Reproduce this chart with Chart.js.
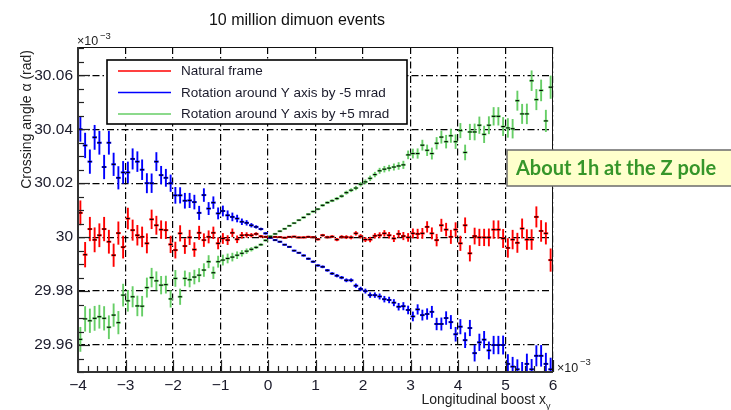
<!DOCTYPE html>
<html>
<head>
<meta charset="utf-8">
<title>10 million dimuon events</title>
<script src="https://cdn.jsdelivr.net/npm/chart.js@4/dist/chart.umd.min.js"></script>
<style>
  html, body { margin: 0; padding: 0; background: #fff; }
  #wrap { width: 731px; height: 410px; position: relative; }
</style>
</head>
<body>
<div id="wrap"><canvas id="c" width="731" height="410"></canvas></div>
<script>
// Longitudinal boost bin centres (x10^-3), bins of width 0.1
const boostBins = [
  -3.95,-3.85,-3.75,-3.65,-3.55,-3.45,-3.35,-3.25,-3.15,-3.05,
  -2.95,-2.85,-2.75,-2.65,-2.55,-2.45,-2.35,-2.25,-2.15,-2.05,
  -1.95,-1.85,-1.75,-1.65,-1.55,-1.45,-1.35,-1.25,-1.15,-1.05,
  -0.95,-0.85,-0.75,-0.65,-0.55,-0.45,-0.35,-0.25,-0.15,-0.05,
   0.05, 0.15, 0.25, 0.35, 0.45, 0.55, 0.65, 0.75, 0.85, 0.95,
   1.05, 1.15, 1.25, 1.35, 1.45, 1.55, 1.65, 1.75, 1.85, 1.95,
   2.05, 2.15, 2.25, 2.35, 2.45, 2.55, 2.65, 2.75, 2.85, 2.95,
   3.05, 3.15, 3.25, 3.35, 3.45, 3.55, 3.65, 3.75, 3.85, 3.95,
   4.05, 4.15, 4.25, 4.35, 4.45, 4.55, 4.65, 4.75, 4.85, 4.95,
   5.05, 5.15, 5.25, 5.35, 5.45, 5.55, 5.65, 5.75, 5.85, 5.95
];

// Mean crossing angle per bin (x10^-3 rad), natural frame
const alphaNatural = [
  30.009, 29.9935, 30.003, 29.999, 30.0007, 30.003, 29.9983, 29.9933, 30.0015, 29.9963,
  30.0069, 30.0026, 30.0007, 30.0001, 29.9977, 30.0066, 30.0044, 30.0028, 30.0026, 29.9973,
  29.9952, 30.0014, 29.9967, 29.9999, 29.9954, 30.0016, 29.9989, 30.0001, 30.0016, 29.9977,
  29.9995, 29.9989, 30.0016, 29.9992, 30.0007, 30.0008, 30.0007, 30.0012, 30.0003, 30.0001,
  29.9999, 30.0001, 30.0000, 29.9998, 30.0001, 30.0002, 29.9999, 29.9999, 30.0001, 30.0000,
  29.9992, 30.0007, 30.0000, 30.0002, 29.9991, 30.0001, 30.0000, 29.9999, 30.0014, 30.0003,
  29.9991, 29.9991, 30.0005, 30.0007, 30.0014, 30.0007, 29.9995, 30.0012, 30.0004, 29.9999,
  30.0014, 30.0012, 30.0014, 30.0038, 30.0014, 29.9989, 30.0044, 30.0028, 30.0001, 30.0028,
  29.9977, 30.0044, 29.994, 30.0004, 29.9999, 29.9999, 29.9999, 30.0028, 30.0028, 29.9995,
  29.996, 29.9991, 29.9979, 30.0032, 29.9991, 29.9991, 30.0075, 30.0023, 30.0014, 29.9915
];

// Rotation around Y axis by -5 mrad
const alphaRotMinus = [
  30.040, 30.034, 30.028, 30.037, 30.035, 30.026, 30.035, 30.027, 30.022, 30.024,
  30.024, 30.029, 30.028, 30.025, 30.020, 30.020, 30.028, 30.023, 30.022, 30.020,
  30.0155, 30.0155, 30.0135, 30.0136, 30.013, 30.009, 30.0156, 30.0106, 30.0128, 30.0088,
  30.0097, 30.0081, 30.0075, 30.0069, 30.0057, 30.0053, 30.0044, 30.0038, 30.003, 30.0014,
  29.9998, 29.9989, 29.9983, 29.9972, 29.9964, 29.995, 29.9942, 29.9932, 29.992, 29.9909,
  29.9895, 29.989, 29.9877, 29.9865, 29.9857, 29.985, 29.984, 29.984, 29.982, 29.9808,
  29.980, 29.9785, 29.9785, 29.978, 29.977, 29.9767, 29.9757, 29.9742, 29.9744, 29.973,
  29.9706, 29.9732, 29.9711, 29.9715, 29.9723, 29.9678, 29.9678, 29.970, 29.9685, 29.964,
  29.9668, 29.9618, 29.9663, 29.957, 29.961, 29.962, 29.958, 29.960, 29.960, 29.960,
  29.953, 29.952, 29.951, 29.950, 29.953, 29.951, 29.956, 29.956, 29.953, 29.951
];

// Rotation around Y axis by +5 mrad
const alphaRotPlus = [
  29.9621, 29.9697, 29.969, 29.9699, 29.9705, 29.9699, 29.9666, 29.9711, 29.9683, 29.9785,
  29.9764, 29.9779, 29.9745, 29.9744, 29.9813, 29.985, 29.9838, 29.9822, 29.9824, 29.9771,
  29.9847, 29.9779, 29.9847, 29.9842, 29.9852, 29.9859, 29.9878, 29.9909, 29.9868, 29.9909,
  29.9915, 29.9921, 29.9926, 29.9933, 29.994, 29.9948, 29.9955, 29.9962, 29.9972, 29.9988,
  30.0003, 30.0012, 30.0022, 30.0031, 30.0042, 30.0052, 30.0063, 30.0073, 30.0085, 30.0095,
  30.0104, 30.0118, 30.0128, 30.0135, 30.0143, 30.0152, 30.0165, 30.0174, 30.0182, 30.0196,
  30.0205, 30.0218, 30.0232, 30.0246, 30.0252, 30.0256, 30.026, 30.0264, 30.0268, 30.0305,
  30.031, 30.031, 30.0341, 30.0322, 30.031, 30.0348, 30.0371, 30.0354, 30.0376, 30.0354,
  30.0395, 30.0314, 30.039, 30.039, 30.0415, 30.0381, 30.0415, 30.0448, 30.0448, 30.041,
  30.0405, 30.0402, 30.0506, 30.0457, 30.0457, 30.058, 30.051, 30.0544, 30.0431, 30.0556
];

// Statistical uncertainty on the mean per bin (same event sample for all frames)
const alphaErr = [
  0.0046, 0.0047, 0.0045, 0.0046, 0.0044, 0.0045, 0.0044, 0.0043, 0.0043, 0.0042,
  0.0040, 0.0039, 0.0038, 0.0038, 0.0037, 0.0036, 0.0035, 0.0034, 0.0033, 0.0032,
  0.0031, 0.0030, 0.0029, 0.0028, 0.0027, 0.0026, 0.0025, 0.0024, 0.0023, 0.0022,
  0.0020, 0.0018, 0.0016, 0.0014, 0.0012, 0.0010, 0.0008, 0.0006, 0.0005, 0.0004,
  0.0003, 0.0003, 0.0003, 0.0003, 0.0003, 0.0003, 0.0003, 0.0004, 0.0004, 0.0004,
  0.0004, 0.0005, 0.0005, 0.0005, 0.0006, 0.0006, 0.0007, 0.0007, 0.0008, 0.0008,
  0.0009, 0.0010, 0.0010, 0.0011, 0.0012, 0.0012, 0.0013, 0.0014, 0.0015, 0.0016,
  0.0018, 0.0019, 0.0020, 0.0021, 0.0022, 0.0023, 0.0024, 0.0025, 0.0026, 0.0027,
  0.0028, 0.0029, 0.0030, 0.0031, 0.0032, 0.0032, 0.0033, 0.0034, 0.0034, 0.0035,
  0.0036, 0.0036, 0.0037, 0.0037, 0.0038, 0.0038, 0.0039, 0.0040, 0.0041, 0.0043
];

const seriesNames = [
  'Natural frame',
  'Rotation around Y axis by -5 mrad',
  'Rotation around Y axis by +5 mrad'
];

const xTickValues = [-4, -3, -2, -1, 0, 1, 2, 3, 4, 5, 6];
const xTickLabels = ['\u22124', '\u22123', '\u22122', '\u22121', '0', '1', '2', '3', '4', '5', '6'];
const yTickValues = [29.96, 29.98, 30, 30.02, 30.04, 30.06];
const yTickLabels = ['29.96', '29.98', '30', '30.02', '30.04', '30.06'];

const TXT = '"Liberation Sans", Arial, Helvetica, sans-serif';
const COLORS = ['rgb(255,0,0)', 'rgb(0,0,255)', 'rgb(102,206,102)'];
const BIN_HALF = 0.05;

function makeSeries(values) {
  return boostBins.map((b, i) => ({ x: b, y: values[i] }));
}

// Error bars: coloured vertical (stat. error) and horizontal (bin width) segments
const errorBars = {
  id: 'errorBars',
  beforeDatasetsDraw(chart) {
    const { ctx, chartArea: a, scales: { x, y } } = chart;
    ctx.save();
    ctx.beginPath();
    ctx.rect(a.left, a.top, a.right - a.left, a.bottom - a.top);
    ctx.clip();
    chart.data.datasets.forEach(ds => {
      ctx.strokeStyle = ds.barColor;
      ds.data.forEach((p, i) => {
        const e = ds.errors[i];
        const px = x.getPixelForValue(p.x);
        const py = y.getPixelForValue(p.y);
        ctx.lineWidth = 1.9;
        ctx.beginPath();
        ctx.moveTo(px, y.getPixelForValue(p.y - e));
        ctx.lineTo(px, y.getPixelForValue(p.y + e));
        ctx.stroke();
        ctx.lineWidth = 2;
        ctx.beginPath();
        ctx.moveTo(x.getPixelForValue(p.x - BIN_HALF), py);
        ctx.lineTo(x.getPixelForValue(p.x + BIN_HALF), py);
        ctx.stroke();
      });
    });
    ctx.restore();
  }
};

// Frame, inward ticks, legend, titles and the note box
const decorations = {
  id: 'decorations',
  afterDraw(chart) {
    const { ctx, chartArea: a, scales: { x, y } } = chart;
    ctx.save();

    // inward tick marks
    ctx.strokeStyle = '#222';
    ctx.lineWidth = 1.2;
    for (let i = 0; i <= 50; i++) {
      const v = -4 + i * 0.2;
      const px = Math.round(x.getPixelForValue(v)) + 0.5;
      const len = (i % 5 === 0) ? 12 : 6;
      ctx.beginPath();
      ctx.moveTo(px, a.bottom);
      ctx.lineTo(px, a.bottom - len);
      ctx.stroke();
    }
    for (let i = 0; i <= 24; i++) {
      const v = 29.95 + i * 0.005;
      const py = Math.round(y.getPixelForValue(v)) + 0.5;
      if (py < a.top) continue;
      const len = (i % 4 === 2) ? 12 : 6;
      ctx.beginPath();
      ctx.moveTo(a.left, py);
      ctx.lineTo(a.left + len, py);
      ctx.stroke();
    }

    // frame
    ctx.strokeStyle = '#111';
    ctx.lineWidth = 1;
    ctx.strokeRect(a.left + 0.5, a.top + 0.5, a.right - a.left - 1, a.bottom - a.top - 1);
    ctx.strokeStyle = '#333';
    ctx.lineWidth = 2;
    ctx.beginPath();
    ctx.moveTo(a.left, a.top);
    ctx.lineTo(a.left, a.bottom);
    ctx.lineTo(a.right, a.bottom);
    ctx.stroke();

    // legend
    const lx = 107, ly = 60, lw = 300, lh = 64;
    ctx.fillStyle = '#fff';
    ctx.fillRect(lx, ly, lw, lh);
    ctx.strokeStyle = '#000';
    ctx.lineWidth = 1.6;
    ctx.strokeRect(lx, ly, lw, lh);
    ctx.font = '13.5px ' + TXT;
    ctx.textBaseline = 'middle';
    ctx.textAlign = 'left';
    const rows = [71, 92.5, 114];
    seriesNames.forEach((name, i) => {
      ctx.strokeStyle = COLORS[i];
      ctx.lineWidth = 1.5;
      ctx.beginPath();
      ctx.moveTo(118, rows[i]);
      ctx.lineTo(171, rows[i]);
      ctx.stroke();
      ctx.fillStyle = '#1a1a2a';
      ctx.fillText(name, 181, rows[i] + 0.5);
    });

    // title
    ctx.fillStyle = '#111';
    ctx.font = '16px ' + TXT;
    ctx.textAlign = 'center';
    ctx.textBaseline = 'alphabetic';
    ctx.fillText('10 million dimuon events', 297, 25);

    // exponent labels
    ctx.textAlign = 'left';
    ctx.font = '12.5px ' + TXT;
    ctx.fillStyle = '#222';
    ctx.fillText('\u00d710', 77, 45);
    ctx.font = '9.5px ' + TXT;
    ctx.fillText('\u22123', 100, 39);
    ctx.font = '12.5px ' + TXT;
    ctx.fillText('\u00d710', 557, 372);
    ctx.font = '9.5px ' + TXT;
    ctx.fillText('\u22123', 580, 365);

    // axis titles
    ctx.font = '14px ' + TXT;
    ctx.fillStyle = '#222';
    ctx.textAlign = 'right';
    ctx.fillText('Longitudinal boost x', 546, 404);
    ctx.font = '9px ' + TXT;
    ctx.textAlign = 'left';
    ctx.fillText('\u03b3', 546, 409);

    ctx.save();
    ctx.translate(31, 50);
    ctx.rotate(-Math.PI / 2);
    ctx.font = '14px ' + TXT;
    ctx.textAlign = 'right';
    ctx.fillText('Crossing angle \u03b1 (rad)', 0, 0);
    ctx.restore();

    // note box
    ctx.fillStyle = '#ffffcc';
    ctx.fillRect(507, 150, 230, 36);
    ctx.strokeStyle = '#6b6b6b';
    ctx.lineWidth = 1.5;
    ctx.strokeRect(507, 150, 230, 36);
    ctx.font = 'bold 20px Lato, "Open Sans", sans-serif';
    ctx.fillStyle = '#36962a';
    ctx.textBaseline = 'alphabetic';
    ctx.fillText('About 1h at the Z pole', 516, 175);

    ctx.restore();
  }
};

const seriesValues = [alphaNatural, alphaRotMinus, alphaRotPlus];

new Chart(document.getElementById('c'), {
  type: 'scatter',
  data: {
    datasets: seriesValues.map((vals, i) => ({
      label: seriesNames[i],
      data: makeSeries(vals),
      errors: alphaErr,
      barColor: COLORS[i],
      pointStyle: 'line',
      pointRadius: 1.7,
      pointHoverRadius: 1.7,
      pointBorderColor: '#000',
      pointBackgroundColor: '#000',
      pointBorderWidth: 1.1,
      showLine: false
    }))
  },
  options: {
    responsive: false,
    animation: false,
    events: [],
    devicePixelRatio: 1,
    layout: { padding: { top: 47, right: 178, bottom: 0, left: 0 } },
    plugins: { legend: { display: false }, tooltip: { enabled: false }, title: { display: false } },
    scales: {
      x: {
        type: 'linear',
        min: -4,
        max: 6,
        afterBuildTicks: s => { s.ticks = xTickValues.map(v => ({ value: v })); },
        afterFit: s => { s.height = 38; },
        ticks: {
          autoSkip: false,
          maxRotation: 0,
          padding: 4,
          color: '#1a1a2a',
          font: { family: TXT, size: 15.5 },
          callback: (v, i) => xTickLabels[i]
        },
        grid: { color: '#000', lineWidth: 1.2, drawTicks: false },
        border: { display: false, dash: [7, 3, 1.5, 3] }
      },
      y: {
        type: 'linear',
        min: 29.95,
        max: 30.0705,
        afterBuildTicks: s => { s.ticks = yTickValues.map(v => ({ value: v })); },
        afterFit: s => { s.width = 78; },
        ticks: {
          autoSkip: false,
          padding: 5,
          color: '#1a1a2a',
          font: { family: TXT, size: 15.5 },
          callback: (v, i) => yTickLabels[i]
        },
        grid: { color: '#000', lineWidth: 1.2, drawTicks: false },
        border: { display: false, dash: [7, 3, 1.5, 3] }
      }
    }
  },
  plugins: [errorBars, decorations]
});
</script>
</body>
</html>
